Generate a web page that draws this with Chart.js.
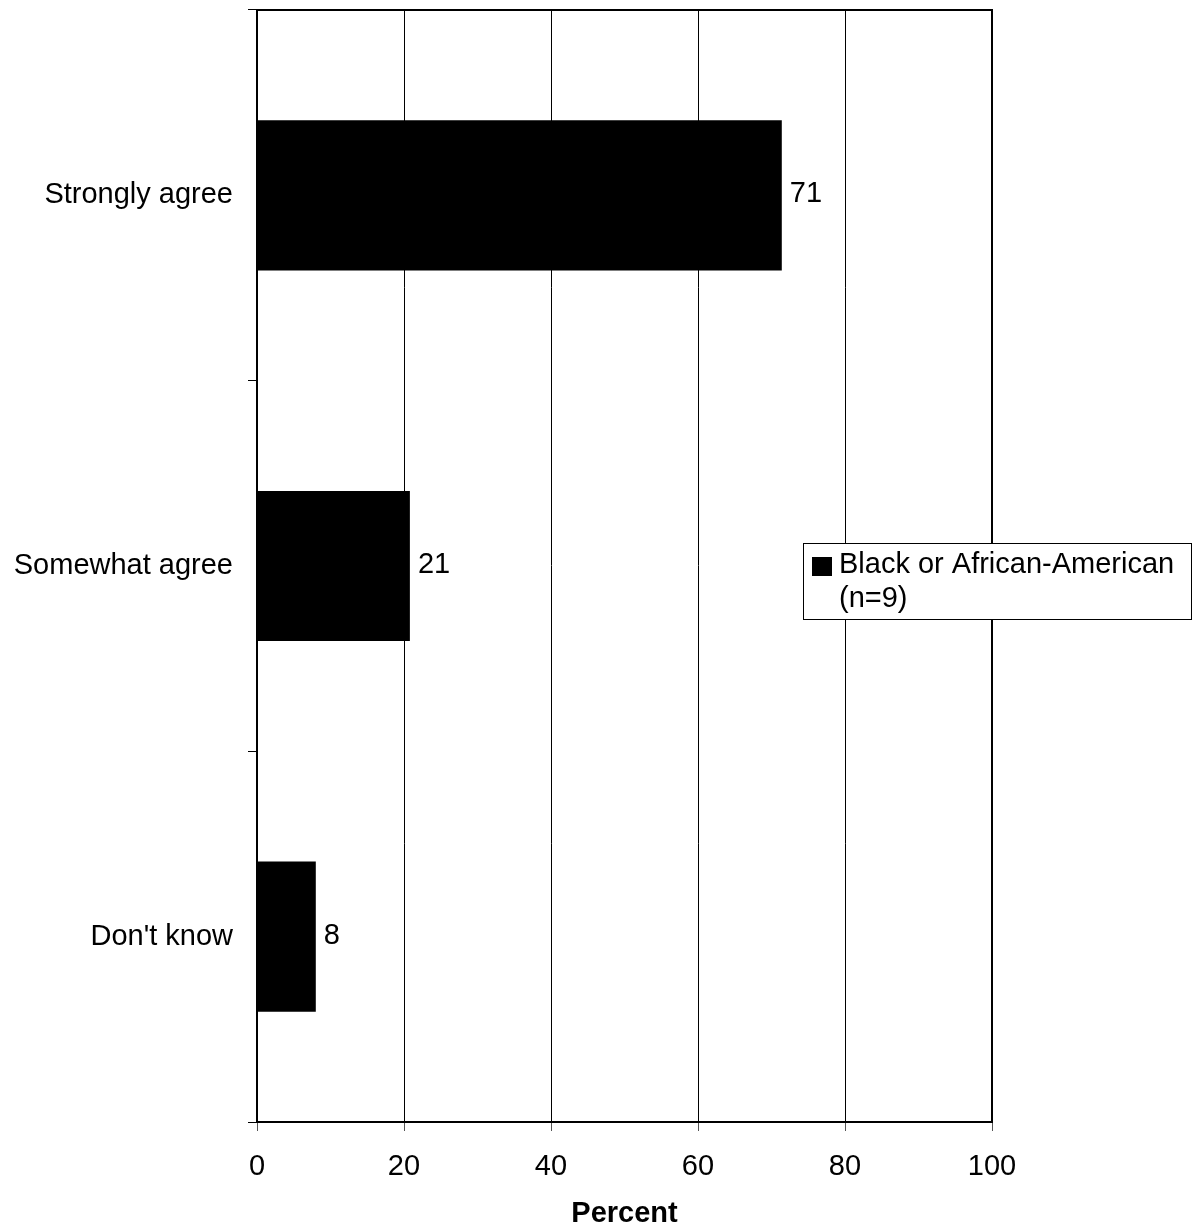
<!DOCTYPE html>
<html><head><meta charset="utf-8">
<script src="https://cdn.jsdelivr.net/npm/chart.js@4/dist/chart.umd.min.js"></script>
<style>html,body{margin:0;padding:0;background:#fff;overflow:hidden}</style>
</head><body>
<canvas id="c" width="1198" height="1226" style="width:1198px;height:1226px;display:block"></canvas>
<script>
const categories = ["Strongly agree", "Somewhat agree", "Don't know"];
const values = [71.4, 20.8, 8.0];
const seriesLabel = ["Black or African-American", "(n=9)"];
const xTickValues = [0, 20, 40, 60, 80, 100];
const xTitle = "Percent";

const FONT = "'Liberation Sans', Arial, sans-serif";

const framePlugin = {
  id: 'frame',
  afterDatasetsDraw(chart) {
    const {ctx, chartArea: a} = chart;
    ctx.save();
    ctx.strokeStyle = '#000';
    ctx.lineWidth = 2;
    ctx.strokeRect(a.left, a.top, a.right - a.left, a.bottom - a.top);
    ctx.restore();
  }
};

const labelPlugin = {
  id: 'valueLabels',
  afterDatasetsDraw(chart) {
    const {ctx} = chart;
    const meta = chart.getDatasetMeta(0);
    ctx.save();
    ctx.font = '29px ' + FONT;
    ctx.fillStyle = '#000';
    ctx.textAlign = 'left';
    ctx.textBaseline = 'middle';
    meta.data.forEach((bar, i) => {
      ctx.fillText(String(Math.round(chart.data.datasets[0].data[i])), bar.x + 8, bar.y - 1);
    });
    ctx.restore();
  }
};

const legendPlugin = {
  id: 'boxLegend',
  afterDraw(chart) {
    const {ctx} = chart;
    const ds = chart.data.datasets[0];
    const bx = 803.5, by = 543.5, bw = 388, bh = 76;
    ctx.save();
    ctx.fillStyle = '#fff';
    ctx.fillRect(bx, by, bw, bh);
    ctx.strokeStyle = '#000';
    ctx.lineWidth = 1;
    ctx.strokeRect(bx, by, bw, bh);
    ctx.fillStyle = ds.backgroundColor;
    ctx.fillRect(812, 557, 20, 19);
    ctx.fillStyle = '#000';
    ctx.font = '29px ' + FONT;
    ctx.textAlign = 'left';
    ctx.textBaseline = 'middle';
    const lines = Array.isArray(ds.label) ? ds.label : [ds.label];
    lines.forEach((t, i) => ctx.fillText(t, 839, 565 + i * 34));
    ctx.restore();
  }
};

new Chart(document.getElementById('c'), {
  type: 'bar',
  data: {
    labels: categories,
    datasets: [{
      label: seriesLabel,
      data: values,
      backgroundColor: '#000000',
      borderColor: '#000000',
      borderWidth: 0,
      categoryPercentage: 1.0,
      barPercentage: 0.405
    }]
  },
  options: {
    indexAxis: 'y',
    responsive: false,
    animation: false,
    devicePixelRatio: 1,
    layout: {padding: {top: 10, right: 206, left: 0, bottom: 0}},
    plugins: {legend: {display: false}, tooltip: {enabled: false}},
    scales: {
      x: {
        type: 'linear',
        min: 0, max: 100,
        afterFit(s) { s.height = 104; s.paddingLeft = 0; s.paddingRight = 0; },
        afterBuildTicks(s) { s.ticks = xTickValues.map(v => ({value: v})); },
        ticks: {color: '#000', font: {family: FONT, size: 29}, padding: 19, maxRotation: 0},
        grid: {color: '#000', lineWidth: 1, tickLength: 9, tickColor: '#555', drawTicks: true},
        border: {display: true, color: '#000', width: 2},
        title: {display: true, text: xTitle, color: '#000', font: {family: FONT, size: 29, weight: 'bold', lineHeight: 0.8}, padding: 0}
      },
      y: {
        type: 'category',
        afterFit(s) { s.width = 257; s.paddingTop = 0; s.paddingBottom = 0; },
        ticks: {color: '#000', font: {family: FONT, size: 29}, padding: 15},
        grid: {offset: true, drawOnChartArea: false, drawTicks: true, tickLength: 9, color: '#000', lineWidth: 1},
        border: {display: true, color: '#000', width: 2}
      }
    }
  },
  plugins: [framePlugin, labelPlugin, legendPlugin]
});
</script>
</body></html>
